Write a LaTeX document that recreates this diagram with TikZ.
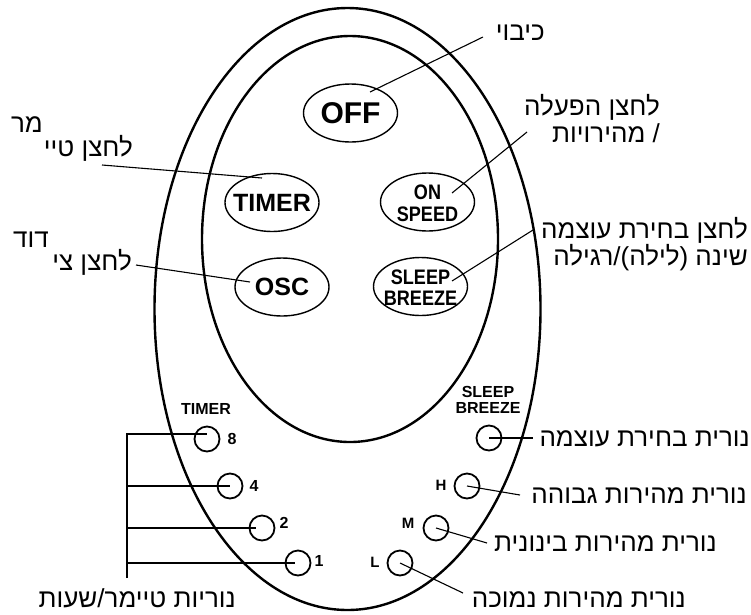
\documentclass[tikz,border=0pt]{standalone}
\usepackage{fontspec}
\setmainfont{Liberation Sans}
\newfontfamily\hebfont[Script=Hebrew]{Liberation Sans}
\newfontfamily\condfont[FakeStretch=0.86]{Liberation Sans}
\usetikzlibrary{shapes.geometric}
\TeXXeTstate=1
\begin{document}
\begin{tikzpicture}[x=1pt,y=-1pt,
  shell/.style={draw,line width=2.4pt},
  btn/.style={ellipse,draw,line width=1.4pt,minimum width=94pt,minimum height=58pt,inner sep=0pt},
  btntext/.style={font=\bfseries\fontsize{25}{25}\selectfont,inner sep=0pt},
  btncond/.style={font=\condfont\bfseries\fontsize{21}{22}\selectfont,inner sep=0pt,align=center},
  led/.style={circle,draw,line width=1.8pt,minimum size=25pt,inner sep=0pt},
  tag/.style={font=\bfseries\fontsize{15}{15}\selectfont,inner sep=0pt},
  digit/.style={font=\bfseries\fontsize{16}{16}\selectfont,inner sep=0pt},
  paneltag/.style={font=\bfseries\fontsize{16}{16}\selectfont,inner sep=0pt,align=center},
  heb/.style={font=\hebfont\fontsize{26}{27}\selectfont,inner sep=0pt,anchor=base east},
  lead/.style={line width=1.1pt}]
\useasboundingbox (0,0) rectangle (751,614);
% body
\draw[shell] (347.5,309) ellipse [x radius=193, y radius=301];
\draw[shell] (350,239) ellipse [x radius=148, y radius=203];
% buttons
\node[btn] (boff) at (350.5,113) {};
\node[btntext,font=\bfseries\fontsize{30}{30}\selectfont] (toff) at (boff.center) {OFF};
\node[btn] (btimer) at (272,202.5) {};
\node[btntext] (ttimer) at (btimer.center) {TIMER};
\node[btn] (bon) at (427.5,202) {};
\node[btncond] (ton) at ([yshift=-1]bon.center) {ON\\SPEED};
\node[btn] (bosc) at (282,287) {};
\node[btntext] (tosc) at (bosc.center) {OSC};
\node[btn] (bsleep) at (420.5,286.5) {};
\node[btncond,font=\condfont\bfseries\fontsize{21}{21}\selectfont] (tsleep) at ([yshift=-1.5]bsleep.center) {SLEEP\\BREEZE};
% panel labels
\node[paneltag] (ptimer) at (206,409) {TIMER};
\node[paneltag] (psleep) at (488,400) {SLEEP\\BREEZE};
% LEDs
\node[led] (l8) at (207,439) {};
\node[led] (l4) at (230,486) {};
\node[led] (l2) at (262,528) {};
\node[led] (l1) at (298,563) {};
\node[led] (lsb) at (489,438) {};
\node[led] (lh) at (467,486) {};
\node[led] (lm) at (436,528) {};
\node[led] (ll) at (400,563) {};
\node[digit] (n8) at (232,439) {8};
\node[digit] (n4) at (254,486) {4};
\node[digit] (n2) at (284,523) {2};
\node[digit] (n1) at (319,561) {1};
\node[tag] (nh) at (441,485) {H};
\node[tag] (nm) at (408,523) {M};
\node[tag] (nl) at (375,562) {L};
% Hebrew labels
\node[heb] (hoff) at (545,40) {\beginR כיבוי\endR};
\node[heb] (hon1) at (660,115) {\beginR לחצן הפעלה\endR};
\node[heb] (hon2) at (660,142) {\beginR / מהירויות\endR};
\node[heb] (hsl1) at (748,238) {\beginR לחצן בחירת עוצמה\endR};
\node[heb] (hsl2) at (748,265) {\beginR שינה (לילה)/רגילה\endR};
\node[heb] (htm1) at (43,132) {\beginR מר\endR};
\node[heb] (htm2) at (133,156) {\beginR לחצן טיי\endR};
\node[heb] (hos1) at (49,247) {\beginR דוד\endR};
\node[heb] (hos2) at (132,270) {\beginR לחצן צי\endR};
\node[heb] (hlsb) at (750,446) {\beginR נורית בחירת עוצמה\endR};
\node[heb] (hlh) at (747,503) {\beginR נורית מהירות גבוהה\endR};
\node[heb] (hlm) at (717,551) {\beginR נורית מהירות בינונית\endR};
\node[heb] (hll) at (686,607) {\beginR נורית מהירות נמוכה\endR};
\node[heb] (hlt) at (236,607) {\beginR נוריות טיימר/שעות\endR};
% connector ends
\coordinate (coff) at (370,92);
\coordinate (eoff) at (483,37);
\coordinate (ctimer) at (262,178);
\coordinate (etimer) at (102,165);
\coordinate (cosc) at (250,282);
\coordinate (eosc) at (136,265);
\coordinate (con) at (452,193);
\coordinate (eon) at (527,132);
\coordinate (csleep) at (452,281);
\coordinate (esleep) at (533,230);
\coordinate (esb) at (533,438);
\coordinate (eh) at (520,495);
\coordinate (em) at (487,543);
\coordinate (el) at (463,593);
\coordinate (btop) at (127,434);
\coordinate (bbot) at (127,578);
\draw[lead] (coff) -- (eoff);
\draw[lead] (ctimer) -- (etimer);
\draw[lead] (cosc) -- (eosc);
\draw[lead] (con) -- (eon);
\draw[lead] (csleep) -- (esleep);
\draw[lead] (lsb.center) -- (esb);
\draw[lead] (lh.center) -- (eh);
\draw[lead] (lm.center) -- (em);
\draw[lead] (ll.center) -- (el);
\draw[lead] (bbot) -- (btop) -- (l8.center |- btop);
\draw[lead] (btop |- l4) -- (l4.center);
\draw[lead] (btop |- l2) -- ([xshift=-6]l2.center);
\draw[lead] (btop |- l1) -- ([xshift=-3]l1.center);
\end{tikzpicture}
\end{document}
